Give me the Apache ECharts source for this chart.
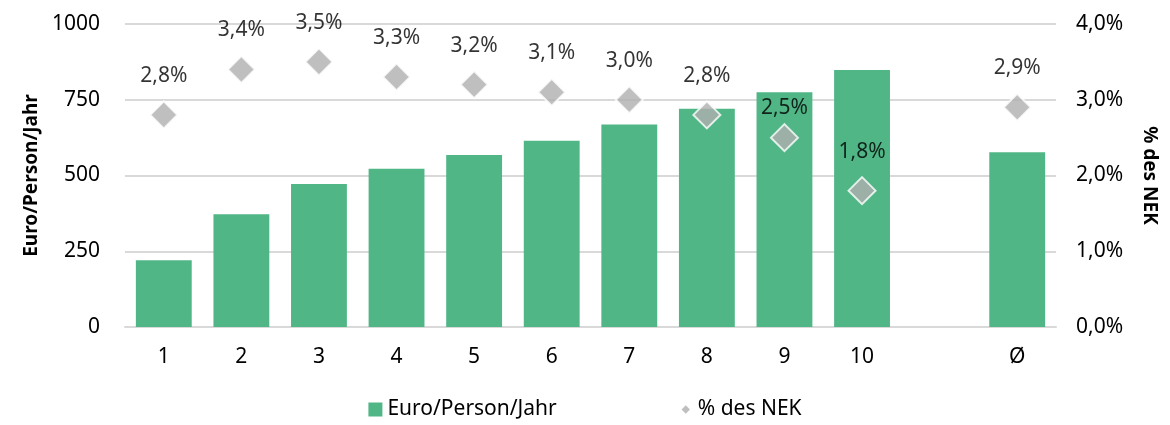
<!DOCTYPE html>
<html>
<head>
<meta charset="utf-8">
<script src="https://cdn.jsdelivr.net/npm/echarts@6/dist/echarts.min.js"></script>
<style>
  html, body { margin: 0; padding: 0; background: #fff; }
  #chart { width: 1170px; height: 425px; }
</style>
</head>
<body>
<div id="chart"></div>
<script>
// categories (one empty slot before the average)
var categories = ['1', '2', '3', '4', '5', '6', '7', '8', '9', '10', '', 'Ø'];
var euroValues = [220, 372, 472, 522, 568, 615, 668, 720, 775, 848, '-', 577];
var nekValues = [2.8, 3.4, 3.5, 3.3, 3.2, 3.1, 3.0, 2.8, 2.5, 1.8, '-', 2.9];
var leftTicks = [0, 250, 500, 750, 1000];
var rightTicks = [0, 1, 2, 3, 4];

var fontFam = '"Noto Sans", sans-serif';
var textCol = '#000000';
var fs = 21;

function pct(v, d) {
  return v.toFixed(d).replace('.', ',') + '%';
}

// the 2,5% label sits closer to its marker in the original
var nekData = nekValues.map(function (v, i) {
  if (i === 8) {
    return { value: v, label: { distance: 5 } };
  }
  return v;
});

var myChart = echarts.init(document.getElementById('chart'));
var option = {
  animation: false,
  textStyle: { fontFamily: fontFam },
  grid: { left: 125, right: 114, top: 24, bottom: 98 },
  legend: {
    bottom: 0,
    left: 'center',
    itemGap: 122,
    itemWidth: 14,
    itemHeight: 14,
    textStyle: { fontSize: 21, color: textCol, fontFamily: fontFam },
    data: [
      { name: 'Euro/Person/Jahr', icon: 'rect' },
      {
        name: '% des NEK',
        icon: 'path://M0,0M20,20M10,4L16,10L10,16L4,10Z',
        itemStyle: { borderWidth: 0 }
      }
    ]
  },
  xAxis: {
    type: 'category',
    data: categories,
    axisLine: { lineStyle: { color: '#d9d9d9', width: 2 } },
    axisTick: { show: false },
    axisLabel: { fontSize: fs, color: textCol, margin: 20 }
  },
  yAxis: [
    {
      type: 'value',
      min: leftTicks[0],
      max: leftTicks[leftTicks.length - 1],
      interval: 250,
      name: 'Euro/Person/Jahr',
      nameLocation: 'middle',
      nameGap: 84,
      nameRotate: 90,
      nameTextStyle: { fontSize: 19, fontWeight: 'bold', color: textCol },
      axisLabel: {
        fontSize: fs, color: textCol, margin: 25,
        formatter: function (v) { return String(v); }
      },
      splitLine: { lineStyle: { color: '#d9d9d9', width: 2 } }
    },
    {
      type: 'value',
      min: rightTicks[0],
      max: rightTicks[rightTicks.length - 1],
      interval: 1,
      name: '% des NEK',
      nameLocation: 'middle',
      nameGap: 84,
      nameRotate: -90,
      nameTextStyle: { fontSize: 19, fontWeight: 'bold', color: textCol },
      axisLabel: {
        fontSize: fs, color: textCol, margin: 20,
        formatter: function (v) { return pct(v, 1); }
      },
      splitLine: { show: false }
    }
  ],
  series: [
    {
      name: 'Euro/Person/Jahr',
      type: 'bar',
      yAxisIndex: 0,
      data: euroValues,
      barCategoryGap: '28%',
      itemStyle: { color: '#50b686' }
    },
    {
      name: '% des NEK',
      type: 'scatter',
      yAxisIndex: 1,
      data: nekData,
      symbol: 'diamond',
      symbolSize: [27, 27],
      itemStyle: { color: '#afafaf', borderColor: '#ffffff', borderWidth: 2 },
      label: {
        show: true,
        position: 'top',
        distance: 14,
        fontSize: fs,
        color: textCol,
        textBorderWidth: 0,
        formatter: function (p) { return pct(p.value, 1); }
      },
      z: 5
    }
  ]
};
myChart.setOption(option);
</script>
</body>
</html>
